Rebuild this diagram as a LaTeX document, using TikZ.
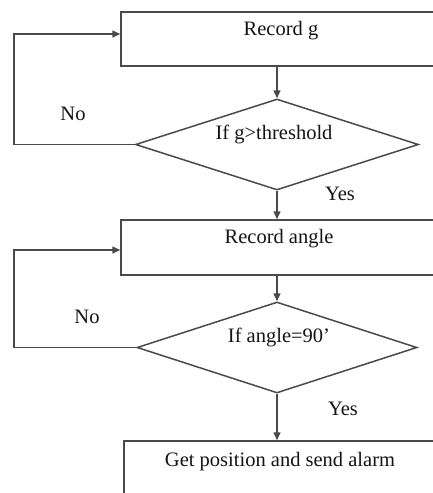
\documentclass[tikz,border=0pt]{standalone}
\usepackage{fontspec}
\setmainfont{Liberation Serif}
\usetikzlibrary{shapes.geometric,arrows.meta}
\definecolor{linec}{HTML}{4a4a4a}
\definecolor{txtc}{HTML}{141414}
\begin{document}
\begin{tikzpicture}[x=1pt,y=-1pt,
  box/.style={draw=linec,line width=1.5pt,rectangle,inner sep=0pt,minimum width=316pt,minimum height=54pt},
  dia/.style={draw=linec,line width=1.5pt,diamond,inner sep=0pt,minimum width=283pt,minimum height=91pt},
  txt/.style={text=txtc,inner sep=0pt,anchor=mid,font=\fontsize{20.5}{24}\selectfont},
  arr/.style={draw=linec,line width=1.5pt,-{Triangle[length=8pt,width=7pt]}}]
\useasboundingbox (0,0) rectangle (433,493);
\clip (0,0) rectangle (433,493);
% boxes and decisions
\node[box] (b1) at (279,39) {};
\node[txt] (t1) at (281,33) {Record g};
\node[dia] (d1) at (277,144.5) {};
\node[txt] (t2) at (274,137) {If g>threshold};
\node[box,minimum height=55pt] (b2) at (279,247.5) {};
\node[txt] (t3) at (279,241) {Record angle};
\node[dia,minimum width=280pt] (d2) at (277,347.5) {};
\node[txt] (t4) at (279,340) {If angle=90’};
\node[box,minimum width=312pt,minimum height=80pt] (b3) at (280,481) {};
\node[txt] (t5) at (280,464.5) {Get position and send alarm};
% labels
\node[txt] (n1) at (73,118) {No};
\node[txt] (y1) at (340,198) {Yes};
\node[txt] (n2) at (87,321) {No};
\node[txt] (y2) at (343,413) {Yes};
% loop corners
\coordinate (l1) at (14,34);
\coordinate (l2) at (14,250);
% connectors
\draw[arr] (d1.north |- b1.south) -- (d1.north);
\draw[arr] (d1.south) -- (d1.south |- b2.north);
\draw[arr] (d2.north |- b2.south) -- (d2.north);
\draw[arr] (d2.south) -- (d2.south |- b3.north);
\draw[arr] (d1.west) -| (l1) -- (b1.west |- l1);
\draw[arr] (d2.west) -| (l2) -- (b2.west |- l2);
\end{tikzpicture}
\end{document}
